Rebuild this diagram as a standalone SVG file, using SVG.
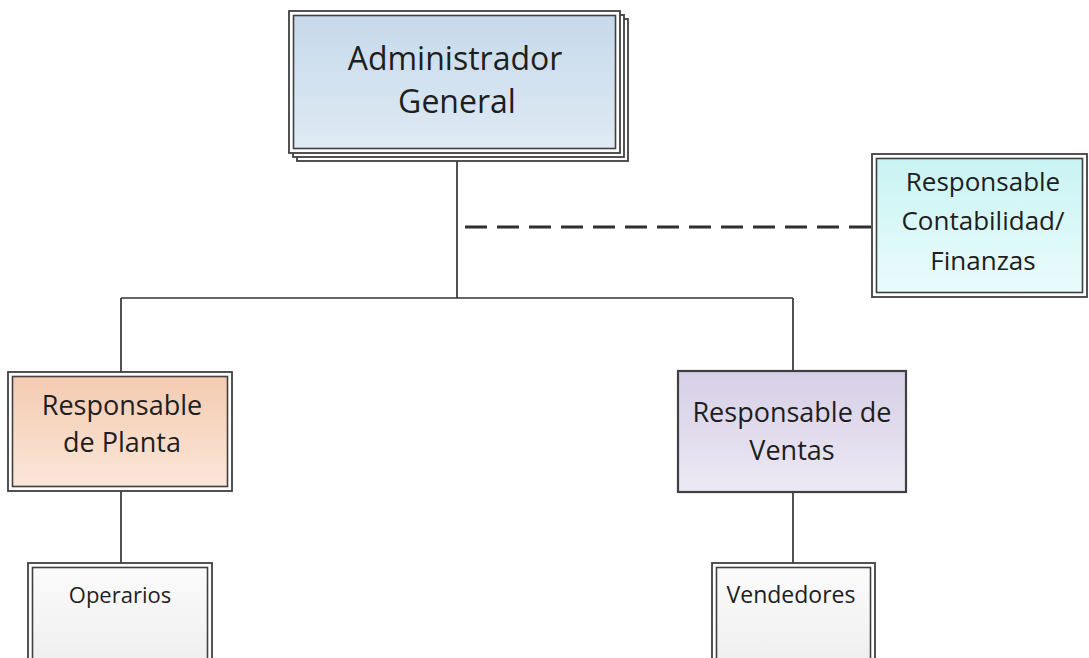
<svg xmlns="http://www.w3.org/2000/svg" width="1089" height="658" viewBox="0 0 1089 658">
<defs>
<linearGradient id="gBlue" x1="0" y1="0" x2="0" y2="1"><stop offset="0" stop-color="#c6d9ea"/><stop offset="1" stop-color="#dfeaf4"/></linearGradient>
<linearGradient id="gPeach" x1="0" y1="0" x2="0" y2="1"><stop offset="0" stop-color="#f4cbb1"/><stop offset="1" stop-color="#fbe6d8"/></linearGradient>
<linearGradient id="gLav" x1="0" y1="0" x2="0" y2="1"><stop offset="0" stop-color="#d6cfe6"/><stop offset="1" stop-color="#ede9f4"/></linearGradient>
<linearGradient id="gCyan" x1="0" y1="0" x2="0" y2="1"><stop offset="0" stop-color="#c9f3f3"/><stop offset="1" stop-color="#eafcfc"/></linearGradient>
<linearGradient id="gGrey" x1="0" y1="0" x2="0" y2="1"><stop offset="0" stop-color="#fbfbfb"/><stop offset="1" stop-color="#eeeeee"/></linearGradient>
</defs>
<style>
.b{stroke:#404040;stroke-width:1.8;fill:#ffffff}
.i{stroke:#404040;stroke-width:1.6}
.c{stroke:#333333;stroke-width:1.7;fill:none}
.d{stroke:#2e2e2e;stroke-width:2.8;stroke-dasharray:22 10;fill:none}
.t{font-family:"Open Sans","Liberation Sans",sans-serif;fill:#1e1e1e;text-anchor:middle}
</style>
<rect width="1089" height="658" fill="#ffffff"/>
<g id="connectors">
<line class="c" x1="457" y1="153" x2="457" y2="298"/>
<line class="c" x1="121" y1="298" x2="793" y2="298"/>
<line class="c" x1="121" y1="298" x2="121" y2="372"/>
<line class="c" x1="793" y1="298" x2="793" y2="371"/>
<line class="c" x1="121" y1="491" x2="121" y2="563"/>
<line class="c" x1="793" y1="492" x2="793" y2="563"/>
<line class="d" x1="465" y1="227" x2="872" y2="227"/>
</g>
<g id="admin">
<rect class="b" x="297" y="19" width="331" height="142"/>
<rect class="b" x="293" y="15" width="331" height="142"/>
<rect class="b" x="289" y="11" width="331" height="142"/>
<rect class="i" x="293.5" y="15.5" width="322" height="133" fill="url(#gBlue)"/>
<text class="t" x="455" y="70" font-size="32">Administrador</text>
<text class="t" x="457" y="113" font-size="32">General</text>
</g>
<g id="contabilidad">
<rect class="b" x="872" y="154" width="215" height="143"/>
<rect class="i" x="876.5" y="158.5" width="206" height="134" fill="url(#gCyan)"/>
<text class="t" x="983" y="191" font-size="26">Responsable</text>
<text class="t" x="983" y="230" font-size="26">Contabilidad/</text>
<text class="t" x="983" y="270" font-size="26">Finanzas</text>
</g>
<g id="planta">
<rect class="b" x="8" y="372" width="224" height="119"/>
<rect class="i" x="12.5" y="376.5" width="215" height="110" fill="url(#gPeach)"/>
<text class="t" x="122" y="415" font-size="27">Responsable</text>
<text class="t" x="122" y="452" font-size="27">de Planta</text>
</g>
<g id="ventas">
<rect x="678" y="371" width="228" height="121" fill="url(#gLav)" stroke="#404040" stroke-width="2.2"/>
<text class="t" x="792" y="422" font-size="27">Responsable de</text>
<text class="t" x="792" y="460" font-size="27">Ventas</text>
</g>
<g id="operarios">
<rect class="b" x="28" y="563" width="184" height="110"/>
<rect class="i" x="32.5" y="567.5" width="175" height="100" fill="url(#gGrey)"/>
<text class="t" x="120" y="603" font-size="22">Operarios</text>
</g>
<g id="vendedores">
<rect class="b" x="712" y="563" width="163" height="110"/>
<rect class="i" x="716.5" y="567.5" width="154" height="100" fill="url(#gGrey)"/>
<text class="t" x="791" y="603" font-size="23">Vendedores</text>
</g>
</svg>
